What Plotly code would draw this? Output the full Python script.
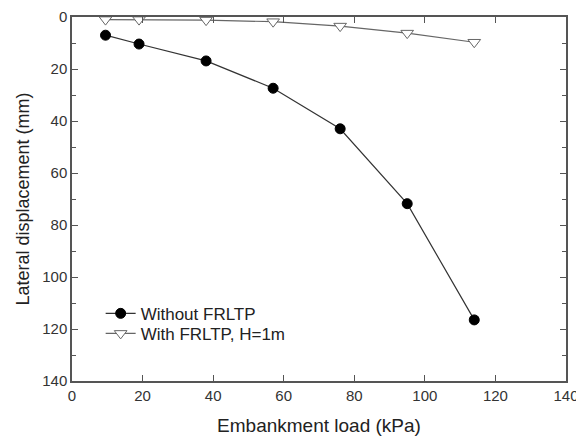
import plotly.graph_objects as go

load = [9.5, 19, 38, 57, 76, 95, 114]
without_frltp = [7.0, 10.4, 16.9, 27.4, 43.0, 71.8, 116.5]
with_frltp = [1.0, 1.0, 1.2, 1.8, 3.5, 6.2, 9.7]
x_ticks = [0, 20, 40, 60, 80, 100, 120, 140]
y_ticks = [0, 20, 40, 60, 80, 100, 120, 140]

fig = go.Figure()
fig.add_trace(go.Scatter(
    x=load, y=without_frltp, mode="lines+markers", name="Without FRLTP",
    line=dict(color="#333333", width=1.2),
    marker=dict(symbol="circle", size=10, color="black", line=dict(color="black", width=1)),
    legend="legend",
))
fig.add_trace(go.Scatter(
    x=load, y=with_frltp, mode="lines+markers", name="With FRLTP, H=1m",
    line=dict(color="#666666", width=1.2),
    marker=dict(symbol="triangle-down", size=11, color="white", line=dict(color="#666666", width=1)),
    legend="legend2",
))

axis_common = dict(
    showline=True, linecolor="#555555", linewidth=1.5, mirror="ticks",
    ticks="inside", ticklen=6, tickwidth=1.3, tickcolor="#555555",
    showgrid=False, zeroline=False, automargin=False,
    tickfont=dict(family="Liberation Sans, Arial", size=15, color="#333333"),
)

fig.update_xaxes(
    range=[0, 140], tickvals=x_ticks, **axis_common,
    title=dict(text="Embankment load (kPa)", font=dict(family="Liberation Sans, Arial", size=19, color="#222222"), standoff=16),
)
fig.update_yaxes(
    range=[140, 0], tickvals=y_ticks, **axis_common,
    minor=dict(ticks="inside", ticklen=4, dtick=10, tickcolor="#555555", showgrid=False),
    title=dict(text="Lateral displacement (mm)", font=dict(family="Liberation Sans, Arial", size=18, color="#222222"), standoff=8),
)

legend_style = dict(
    xanchor="left", yanchor="top",
    bgcolor="rgba(0,0,0,0)", borderwidth=0,
    font=dict(family="Liberation Sans, Arial", size=17, color="#222222"),
    itemwidth=30,
)

# The page body adds an 8px offset, so the figure is sized to compensate.
fig.update_layout(
    width=576, height=428,
    margin=dict(l=64, r=18, t=9, b=55),
    paper_bgcolor="white", plot_bgcolor="white",
    showlegend=True,
    legend=dict(x=0.058, y=0.234, **legend_style),
    legend2=dict(x=0.058, y=0.179, **legend_style),
)

fig.write_html("out.html")
